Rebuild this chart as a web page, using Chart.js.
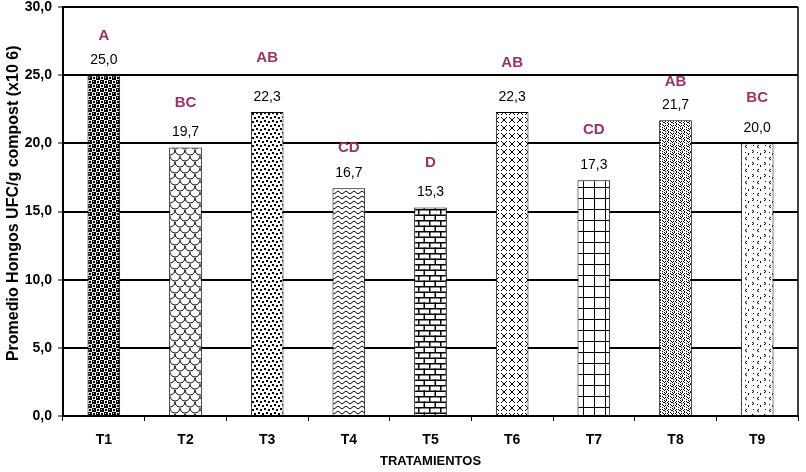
<!DOCTYPE html>
<html>
<head>
<meta charset="utf-8">
<script src="https://cdn.jsdelivr.net/npm/chart.js@4.4.1/dist/chart.umd.min.js"></script>
<style>
  html, body { margin: 0; padding: 0; background: #fff; }
  #wrap { width: 806px; height: 472px; }
</style>
</head>
<body>
<div id="wrap"><canvas id="hongos"></canvas></div>
<script>
// Datos del gráfico
var tratamientos = ['T1', 'T2', 'T3', 'T4', 'T5', 'T6', 'T7', 'T8', 'T9'];
var promedios = [25.0, 19.7, 22.3, 16.7, 15.3, 22.3, 17.3, 21.7, 20.0];
var letras = ['A', 'BC', 'AB', 'CD', 'D', 'AB', 'CD', 'AB', 'BC'];
// nivel (en unidades del eje) donde va cada letra
var nivelLetras = [27.9, 23.0, 26.3, 19.7, 18.6, 25.9, 21.0, 24.5, 23.3];
var ticksY = [0, 5, 10, 15, 20, 25, 30];
var tituloY = 'Promedio Hongos UFC/g compost (x10 6)';

function coma(v) { return v.toFixed(1).replace('.', ','); }

// tramas en blanco y negro
function trama(w, h, dibujo) {
    var c = document.createElement('canvas');
    c.width = w; c.height = h;
    var g = c.getContext('2d');
    g.fillStyle = '#fff';
    g.fillRect(0, 0, w, h);
    g.fillStyle = '#000';
    g.strokeStyle = '#000';
    g.lineWidth = 1;
    dibujo(g);
    return g.createPattern(c, 'repeat');
}

function mapaBits(filas) {
    return function (g) {
        filas.forEach(function (f, y) {
            for (var x = 0; x < f.length; x++) if (f[x] === 'X') g.fillRect(x, y, 1, 1);
        });
    };
}

var tramas = [
    // T1 damero con bolas
    trama(8, 8, function (g) {
        g.fillRect(4, 0, 4, 4); g.fillRect(0, 4, 4, 4);
        g.beginPath(); g.arc(2, 2, 1.2, 0, Math.PI * 2); g.fill();
        g.beginPath(); g.arc(6, 6, 1.2, 0, Math.PI * 2); g.fill();
        g.fillStyle = '#fff';
        g.fillRect(5, 1, 1, 1); g.fillRect(1, 5, 1, 1);
    }),
    // T2 escamas
    trama(10, 12, function (g) {
        g.beginPath();
        g.arc(5, 0, 5, 0, Math.PI);
        g.moveTo(10, 6); g.arc(10, 6, 5, 0, Math.PI);
        g.moveTo(5, 6); g.arc(0, 6, 5, 0, Math.PI);
        g.moveTo(15, 12); g.arc(5, 12, 5, 0, Math.PI);
        g.stroke();
    }),
    // T3 puntos densos
    trama(8, 8, function (g) {
        g.fillRect(0, 0, 2, 2); g.fillRect(4, 1, 2, 2);
        g.fillRect(2, 4, 2, 2); g.fillRect(6, 5, 2, 2);
    }),
    // T4 ondas
    trama(8, 5, function (g) {
        g.beginPath();
        g.moveTo(0, 2.5); g.quadraticCurveTo(2, -0.5, 4, 2.5); g.quadraticCurveTo(6, 5.5, 8, 2.5);
        g.stroke();
    }),
    // T5 ladrillos
    trama(11, 11, function (g) {
        g.fillRect(0, 0, 11, 1.5); g.fillRect(0, 5.5, 11, 1.5);
        g.fillRect(0, 0, 1.5, 5.5); g.fillRect(5.5, 5.5, 1.5, 5.5);
    }),
    // T6 enrejado
    trama(8, 8, function (g) {
        g.beginPath();
        g.moveTo(0, 0); g.lineTo(8, 8); g.moveTo(8, 0); g.lineTo(0, 8);
        g.stroke();
        g.fillStyle = '#fff';
        g.fillRect(3, 3, 2, 2);
    }),
    // T7 cuadrícula
    trama(11, 11, function (g) {
        g.fillRect(0, 0, 11, 1); g.fillRect(0, 0, 1, 11);
    }),
    // T8 tejido
    trama(8, 8, mapaBits([
        'X.X.....',
        '.X..X.X.',
        'X..X...X',
        '.X..X...',
        '....X.X.',
        '.X.X...X',
        'X...X...',
        '..X...X.'
    ])),
    // T9 confeti
    trama(12, 12, function (g) {
        g.beginPath();
        g.moveTo(3, 1); g.lineTo(1, 2.5); g.lineTo(3, 4);
        g.moveTo(8, 6); g.lineTo(10, 7.5); g.lineTo(8, 9);
        g.moveTo(5, 9); g.lineTo(4, 10); g.lineTo(5, 11);
        g.stroke();
        g.fillRect(9, 1, 1, 1); g.fillRect(1, 8, 1, 1);
    })
];

var etiquetas = {
    id: 'etiquetas',
    afterDatasetsDraw: function (chart) {
        var ctx = chart.ctx;
        var meta = chart.getDatasetMeta(0);
        var y = chart.scales.y;
        var a = chart.chartArea;
        ctx.save();
        ctx.textAlign = 'center';
        ctx.textBaseline = 'middle';
        meta.data.forEach(function (bar, i) {
            ctx.fillStyle = '#000';
            ctx.font = '14px "Liberation Sans", Arial, sans-serif';
            ctx.fillText(coma(promedios[i]), bar.x, bar.y - 15);
            ctx.fillStyle = '#993366';
            ctx.font = 'bold 15px "Liberation Sans", Arial, sans-serif';
            ctx.fillText(letras[i], bar.x, y.getPixelForValue(nivelLetras[i]));
        });
        // borde derecho del área
        ctx.strokeStyle = '#000';
        ctx.lineWidth = 1.5;
        ctx.beginPath();
        ctx.moveTo(a.right, a.top);
        ctx.lineTo(a.right, a.bottom);
        ctx.stroke();
        // título del eje Y
        ctx.translate(14, y.getPixelForValue(15.6));
        ctx.rotate(-Math.PI / 2);
        ctx.fillStyle = '#000';
        ctx.font = 'bold 16px "Liberation Sans", Arial, sans-serif';
        ctx.fillText(tituloY, 0, 0);
        ctx.restore();
    }
};

var ctx = document.getElementById('hongos').getContext('2d');
var grafico = new Chart(ctx, {
    type: 'bar',
    data: {
        labels: tratamientos,
        datasets: [{
            data: promedios,
            backgroundColor: tramas,
            borderColor: '#000',
            borderWidth: 1,
            barPercentage: 0.4,
            categoryPercentage: 1
        }]
    },
    options: {
        responsive: true,
        maintainAspectRatio: false,
        animation: false,
        layout: { padding: { top: 7, right: 8, left: 0, bottom: 0 } },
        plugins: { legend: { display: false }, tooltip: { enabled: false } },
        scales: {
            x: {
                afterFit: function (s) { s.height = 56; },
                grid: { drawOnChartArea: false, tickLength: 5, tickColor: '#000', tickWidth: 1 },
                border: { color: '#000', width: 2 },
                ticks: {
                    color: '#000',
                    padding: 11,
                    font: { family: '"Liberation Sans", Arial, sans-serif', size: 14, weight: 'bold' }
                },
                title: {
                    display: true,
                    text: 'TRATAMIENTOS',
                    color: '#000',
                    padding: { top: 0, bottom: 3 },
                    font: { family: '"Liberation Sans", Arial, sans-serif', size: 13, weight: 'bold' }
                }
            },
            y: {
                min: 0,
                max: 30,
                afterFit: function (s) { s.width = 63; s.paddingTop = 0; s.paddingBottom = 0; },
                afterBuildTicks: function (s) { s.ticks = ticksY.map(function (v) { return { value: v }; }); },
                grid: { color: '#000', lineWidth: 2, tickLength: 5, tickColor: '#000', tickWidth: 1 },
                border: { color: '#000', width: 2 },
                ticks: {
                    color: '#000',
                    padding: 6,
                    callback: function (v) { return coma(v); },
                    font: { family: '"Liberation Sans", Arial, sans-serif', size: 14, weight: 'bold' }
                }
            }
        }
    },
    plugins: [etiquetas]
});
</script>
</body>
</html>
